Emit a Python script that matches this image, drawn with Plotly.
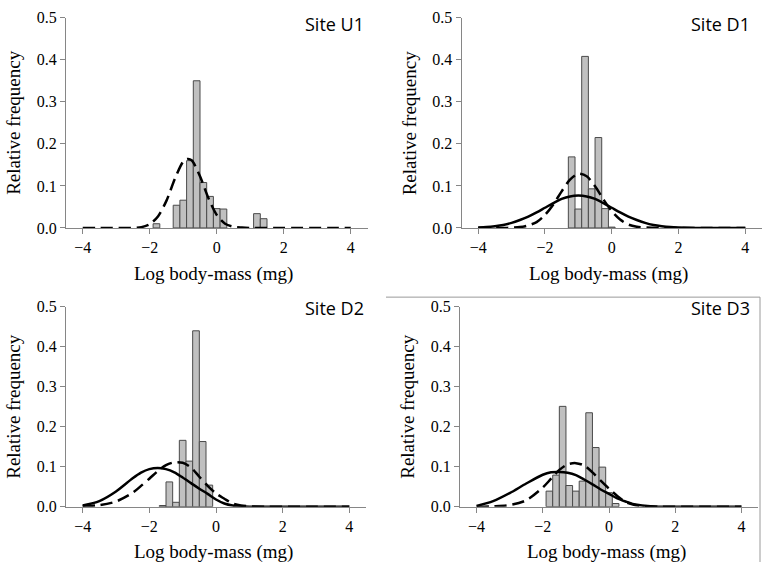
import plotly.graph_objects as go

# ---------------- data ----------------
site_labels = ["Site U1", "Site D1", "Site D2", "Site D3"]
x_ticks = [-4, -2, 0, 2, 4]
y_ticks = [0.0, 0.1, 0.2, 0.3, 0.4, 0.5]

# histogram bins (bin centres, width 0.2) and relative frequencies
bins_U1 = [-1.8, -1.2, -1.0, -0.8, -0.6, -0.4, -0.2, 0.0, 0.2, 1.2, 1.4]
freq_U1 = [0.010, 0.054, 0.066, 0.160, 0.350, 0.108, 0.075, 0.046, 0.045, 0.034, 0.022]

bins_D1 = [-1.2, -1.0, -0.8, -0.6, -0.4, -0.2, 0.0]
freq_D1 = [0.169, 0.045, 0.408, 0.093, 0.215, 0.046, 0.002]

bins_D2 = [-1.6, -1.4, -1.2, -1.0, -0.8, -0.6, -0.4, -0.2]
freq_D2 = [0.003, 0.062, 0.011, 0.166, 0.114, 0.440, 0.163, 0.054]

bins_D3 = [-1.8, -1.6, -1.4, -1.2, -1.0, -0.8, -0.6, -0.4, -0.2, 0.0, 0.2]
freq_D3 = [0.039, 0.079, 0.251, 0.053, 0.039, 0.064, 0.235, 0.148, 0.099, 0.035, 0.008]

# fitted curves (dashed and solid)
dash_x_U1 = [-4, -3.5, -3, -2.5, -2.25, -2, -1.75, -1.5, -1.25, -1, -0.875, -0.75, -0.5, -0.25, 0, 0.25, 0.5, 0.75, 1, 1.5, 2, 2.5, 3, 3.5, 4]
dash_y_U1 = [0, 0, 0, 0, 0.002, 0.009, 0.028, 0.065, 0.117, 0.158, 0.164, 0.161, 0.123, 0.071, 0.031, 0.010, 0.003, 0.001, 0, 0, 0, 0, 0, 0, 0]

dash_x_D1 = [-4, -3.5, -3.25, -3, -2.75, -2.5, -2.25, -2, -1.75, -1.5, -1.25, -1, -0.75, -0.5, -0.25, 0, 0.25, 0.5, 0.75, 1, 1.5, 2, 3, 4]
dash_y_D1 = [0, 0, 0, 0.0005, 0.002, 0.006, 0.014, 0.031, 0.056, 0.087, 0.115, 0.129, 0.123, 0.099, 0.068, 0.040, 0.020, 0.008, 0.003, 0.001, 0, 0, 0, 0]
solid_x_D1 = [-4, -3.75, -3.5, -3.25, -3, -2.75, -2.5, -2.25, -2, -1.75, -1.5, -1.25, -1, -0.75, -0.5, -0.25, 0, 0.25, 0.5, 0.75, 1, 1.25, 1.5, 1.75, 2, 2.5, 3, 3.5, 4]
solid_y_D1 = [0.001, 0.002, 0.004, 0.007, 0.012, 0.019, 0.027, 0.037, 0.048, 0.059, 0.069, 0.075, 0.077, 0.075, 0.069, 0.059, 0.048, 0.037, 0.027, 0.019, 0.012, 0.007, 0.004, 0.002, 0.001, 0, 0, 0, 0]

dash_x_D2 = [-4, -3.5, -3, -2.5, -2.25, -2, -1.75, -1.5, -1.25, -1, -0.75, -0.5, -0.25, 0, 0.25, 0.5, 0.75, 1, 1.5, 2, 3, 4]
dash_y_D2 = [0.001, 0.004, 0.013, 0.035, 0.052, 0.070, 0.089, 0.104, 0.111, 0.110, 0.098, 0.075, 0.052, 0.033, 0.020, 0.008, 0.003, 0.001, 0, 0, 0, 0]
solid_x_D2 = [-4, -3.5, -3, -2.5, -2.25, -2, -1.75, -1.5, -1.25, -1, -0.75, -0.5, -0.25, 0, 0.25, 0.5, 1, 1.5, 2, 3, 4]
solid_y_D2 = [0.003, 0.014, 0.038, 0.071, 0.085, 0.094, 0.097, 0.094, 0.086, 0.073, 0.059, 0.045, 0.032, 0.018, 0.008, 0.003, 0, 0, 0, 0, 0]

dash_x_D3 = [-4, -3.5, -3, -2.5, -2, -1.75, -1.5, -1.25, -1, -0.75, -0.5, -0.25, 0, 0.25, 0.5, 0.75, 1, 1.5, 2, 3, 4]
dash_y_D3 = [0, 0.001, 0.004, 0.016, 0.048, 0.070, 0.092, 0.106, 0.109, 0.103, 0.086, 0.065, 0.045, 0.027, 0.012, 0.005, 0.002, 0, 0, 0, 0]
solid_x_D3 = [-4, -3.5, -3, -2.5, -2, -1.75, -1.5, -1.25, -1, -0.75, -0.5, -0.25, 0, 0.25, 0.5, 0.75, 1, 1.5, 2, 3, 4]
solid_y_D3 = [0.002, 0.014, 0.034, 0.058, 0.080, 0.086, 0.087, 0.085, 0.079, 0.068, 0.056, 0.043, 0.032, 0.021, 0.013, 0.006, 0.003, 0, 0, 0, 0]

# ---------------- layout geometry (pixels of a 765x571 page) ----------------
W, H = 765, 571
panels = [
    dict(bins=bins_U1, freq=freq_U1, dash=(dash_x_U1, dash_y_U1), solid=None,
         x0=66, x1=367.5, ytop=10, ybot=226.7),
    dict(bins=bins_D1, freq=freq_D1, dash=(dash_x_D1, dash_y_D1), solid=(solid_x_D1, solid_y_D1),
         x0=461.5, x1=762, ytop=10, ybot=226.7),
    dict(bins=bins_D2, freq=freq_D2, dash=(dash_x_D2, dash_y_D2), solid=(solid_x_D2, solid_y_D2),
         x0=66, x1=366, ytop=308, ybot=514),
    dict(bins=bins_D3, freq=freq_D3, dash=(dash_x_D3, dash_y_D3), solid=(solid_x_D3, solid_y_D3),
         x0=460, x1=758, ytop=308, ybot=514),
]

serif = "Liberation Serif, Times New Roman, serif"
axis_grey = "#868686"

fig = go.Figure()
layout = dict(
    width=W, height=H, margin=dict(l=0, r=0, t=0, b=0),
    paper_bgcolor="white", plot_bgcolor="white", showlegend=False,
    annotations=[], shapes=[],
)

for i, p in enumerate(panels):
    n = "" if i == 0 else str(i + 1)
    xa, ya = "x" + n, "y" + n
    fig.add_trace(go.Bar(
        x=p["bins"], y=p["freq"], width=0.2, xaxis=xa, yaxis=ya,
        marker=dict(color="#c0c0c0", line=dict(color="#4a4a4a", width=1)),
    ))
    if p["solid"] is not None:
        fig.add_trace(go.Scatter(
            x=p["solid"][0], y=p["solid"][1], mode="lines", xaxis=xa, yaxis=ya,
            line=dict(color="black", width=2.5, shape="spline", smoothing=0.8),
        ))
    fig.add_trace(go.Scatter(
        x=p["dash"][0], y=p["dash"][1], mode="lines", xaxis=xa, yaxis=ya,
        line=dict(color="black", width=2.5, dash="12px,6px", shape="spline", smoothing=0.8),
    ))

    layout["xaxis" + n] = dict(
        domain=[p["x0"] / W, p["x1"] / W], anchor=ya, range=[-4.5, 4.5],
        tickvals=x_ticks, ticks="outside", ticklen=5, tickcolor=axis_grey,
        showline=True, linecolor=axis_grey, linewidth=1, showgrid=False, zeroline=False,
        tickfont=dict(family=serif, size=16, color="black"),
    )
    layout["yaxis" + n] = dict(
        domain=[1 - p["ybot"] / H, 1 - p["ytop"] / H], anchor=xa, range=[0, 0.5],
        tickvals=y_ticks, tickformat=".1f", ticks="outside", ticklen=5, tickcolor=axis_grey,
        showline=True, linecolor=axis_grey, linewidth=1, showgrid=False, zeroline=False,
        tickfont=dict(family=serif, size=16, color="black"),
    )
    # axis titles
    xc = p["x0"] + (p["x1"] - p["x0"]) * 0.5 - 3
    layout["annotations"].append(dict(
        text="Log body-mass (mg)", xref="paper", yref="paper",
        x=xc / W, y=1 - (p["ybot"] + 47) / H, xanchor="center", yanchor="middle",
        showarrow=False, font=dict(family=serif, size=19, color="black"),
    ))
    layout["annotations"].append(dict(
        text="Relative frequency", xref="paper", yref="paper", textangle=-90,
        x=(p["x0"] - 52) / W, y=1 - (p["ytop"] + p["ybot"]) / 2 / H,
        xanchor="center", yanchor="middle",
        showarrow=False, font=dict(family=serif, size=19, color="black"),
    ))
    # site label
    rx = 366 if i % 2 == 0 else 752
    ty = 17 if i < 2 else 309
    layout["annotations"].append(dict(
        text=site_labels[i], xref="paper", yref="paper",
        x=rx / W, y=1 - ty / H, xanchor="right", yanchor="middle",
        showarrow=False, font=dict(family="Open Sans, sans-serif", size=18, color="black"),
    ))

# thin chart-area border edges visible round the lower-right panel
layout["shapes"].append(dict(
    type="line", xref="paper", yref="paper",
    x0=386 / W, x1=760 / W, y0=1 - 298 / H, y1=1 - 298 / H,
    line=dict(color="#9a9a9a", width=1), layer="below",
))
layout["shapes"].append(dict(
    type="line", xref="paper", yref="paper",
    x0=760 / W, x1=760 / W, y0=0, y1=1 - 298 / H,
    line=dict(color="#9a9a9a", width=1), layer="below",
))

fig.update_layout(**layout)
fig.write_html(
    "out.html",
    config={"displayModeBar": False, "staticPlot": True},
    post_script="document.body.style.margin='0';",
)
